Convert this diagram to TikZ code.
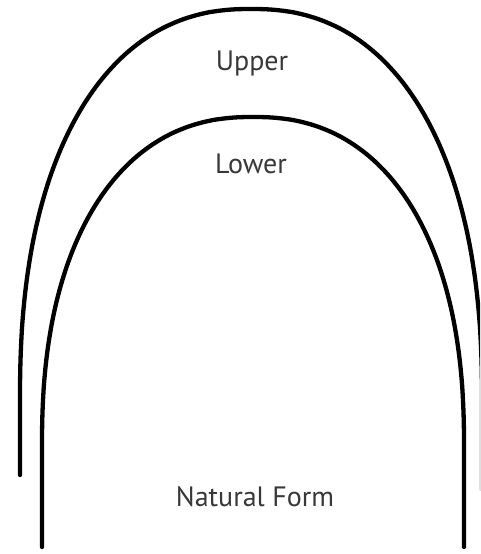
\documentclass[tikz,border=0pt]{standalone}
\usepackage{fontspec}
\setmainfont{PT Sans}
\newfontfamily\labelfont{PT Sans}
\definecolor{labelgrey}{HTML}{383838}
\begin{document}
\begin{tikzpicture}[x=1pt,y=-1pt,
  arch/.style={line width=4.3pt,black,line cap=round,line join=round},
  archlabel/.style={text=labelgrey,font=\labelfont\fontsize{28}{32}\selectfont,inner sep=0pt,anchor=base}]
\useasboundingbox (0,0) rectangle (480,554);
\clip (0,0) rectangle (480,554);
% outer arch: superellipse top (centre 251,400; a=231, b=391) with straight legs
\coordinate (oL) at (20,475);
\coordinate (oR) at (482,490);
\draw[arch] (oL) -- plot[domain=180:0,samples=181,variable=\t]
  ({251+231*sign(cos(\t))*pow(abs(cos(\t))+0.00002,2/2.3)},
   {400-391*pow(abs(sin(\t))+0.00002,2/2.3)}) -- (oR);
% inner arch: superellipse top (centre 253,447; a=211, b=330) with straight legs
\coordinate (iL) at (42,547);
\coordinate (iR) at (464,547);
\draw[arch] (iL) -- plot[domain=180:0,samples=181,variable=\t]
  ({253+211*sign(cos(\t))*pow(abs(cos(\t))+0.00002,2/2.3)},
   {447-330*pow(abs(sin(\t))+0.00002,2/2.3)}) -- (iR);
\node[archlabel] (upper) at (252,70) {Upper};
\node[archlabel] (lower) at (251,173) {Lower};
\node[archlabel] (natural) at (255,506) {Natural Form};
\end{tikzpicture}
\end{document}
